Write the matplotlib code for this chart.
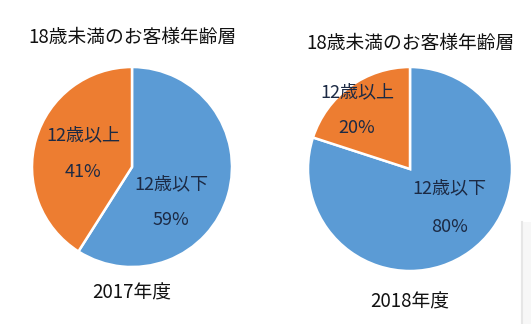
import matplotlib.pyplot as plt
from matplotlib.patches import Rectangle

plt.rcParams['font.family'] = ['Noto Sans CJK JP', 'DejaVu Sans']

# data
title = '18歳未満のお客様年齢層'
years = ['2017年度', '2018年度']
categories = ['12歳以下', '12歳以上']
shares = [[59, 41], [80, 20]]

colors = ['#5b9bd5', '#ed7d31']
text_color = '#1c2a44'

fig = plt.figure(figsize=(5.31, 3.24), dpi=100)
W, H = 531, 324

# faint page edge seen at the lower right of the screenshot
fig.patches.append(Rectangle((522 / W, 0), 9 / W, (H - 222) / H,
                             transform=fig.transFigure, facecolor='#f7f7f7',
                             edgecolor='none'))
fig.lines.append(plt.Line2D([522 / W, 522 / W], [0, (H - 222) / H],
                            transform=fig.transFigure, color='#e6e6e6', lw=1.5))

# pie centers / radius in pixels, label spots in radius units
layout = [
    dict(cx=132, cy=167, r=100, title_y=37, year_y=293,
         spots=[(0.39, -0.17, -0.53), (-0.49, 0.32, -0.05)]),
    dict(cx=410, cy=169, r=102, title_y=43, year_y=302,
         spots=[(0.39, -0.19, -0.57), (-0.52, 0.75, 0.40)]),
]

for year, vals, lay in zip(years, shares, layout):
    cx, cy, r = lay['cx'], lay['cy'], lay['r']
    ax = fig.add_axes([(cx - r) / W, (H - cy - r) / H, 2 * r / W, 2 * r / H])
    ax.pie(vals, colors=colors, startangle=90, counterclock=False,
           wedgeprops=dict(edgecolor='white', linewidth=1.8))
    ax.set_xlim(-1.0, 1.0)
    ax.set_ylim(-1.0, 1.0)
    ax.set_aspect('equal')
    ax.axis('off')
    for cat, v, (x, y1, y2) in zip(categories, vals, lay['spots']):
        ax.text(x, y1, cat, ha='center', va='center', fontsize=13, color=text_color)
        ax.text(x, y2, f'{v}%', ha='center', va='center', fontsize=13, color=text_color)
    fig.text(cx / W, 1 - lay['title_y'] / H, title, ha='center', va='center',
             fontsize=13.5, color='#111111')
    fig.text(cx / W, 1 - lay['year_y'] / H, year, ha='center', va='center',
             fontsize=13.5, color='#111111')

fig.savefig('out.png', dpi=100)
